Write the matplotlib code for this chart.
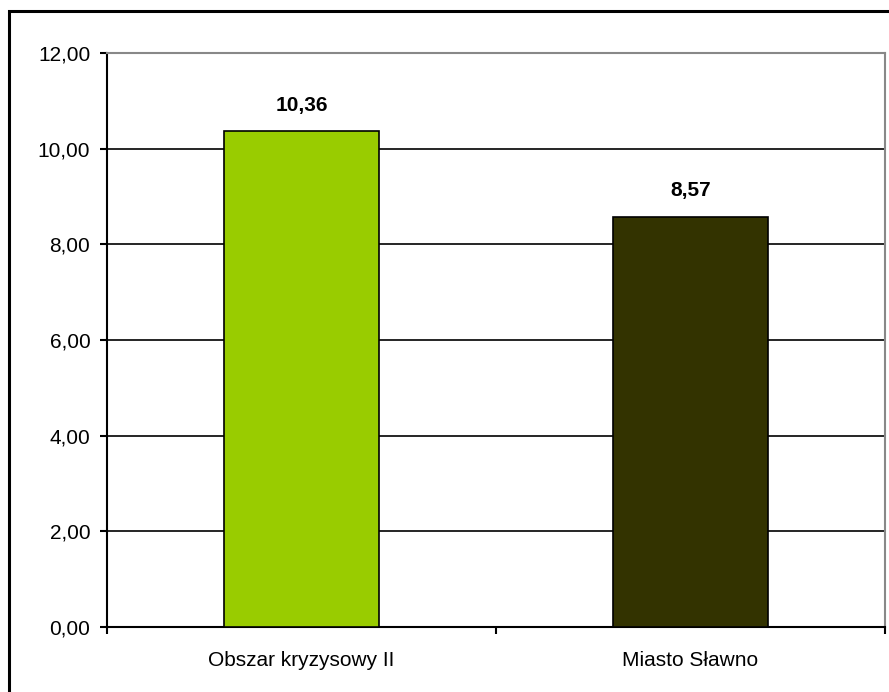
import matplotlib.pyplot as plt
from matplotlib.patches import Rectangle

categories = ["Obszar kryzysowy II", "Miasto Sławno"]
values = [10.36, 8.57]
colors = ["#99CC00", "#333300"]
yticks = [0, 2, 4, 6, 8, 10, 12]

plt.rcParams['font.family'] = ['Liberation Sans', 'DejaVu Sans']

fig = plt.figure(figsize=(8.89, 6.92), dpi=100)
ax = fig.add_axes([107/889, 1-627/692, 778/889, 574/692])

x = list(range(len(categories)))
ax.bar(x, values, width=0.40, color=colors, edgecolor='black', linewidth=1.2, zorder=3)
for xi, v in zip(x, values):
    ax.annotate(f"{v:.2f}".replace('.', ','), (xi, v), xytext=(0, 19), textcoords='offset points',
                ha='center', va='center', fontsize=15, fontweight='bold')

ax.set_xlim(-0.5, len(categories) - 0.5)
ax.set_ylim(0, 12)
ax.set_yticks(yticks)
ax.set_yticklabels([f"{t:.2f}".replace('.', ',') for t in yticks], fontsize=15)
ax.yaxis.grid(True, color='black', linewidth=1.2, zorder=0)
ax.set_axisbelow(True)

# category labels between ticks, ticks at boundaries
ax.set_xticks([i - 0.5 for i in range(len(categories) + 1)])
ax.set_xticklabels([])
ax.set_xticks(x, minor=True)
ax.set_xticklabels(categories, minor=True, fontsize=15)
ax.tick_params(axis='x', which='minor', length=0, pad=17)
ax.tick_params(axis='x', which='major', length=5, width=1.5, direction='out')
ax.tick_params(axis='y', length=5, width=1.5, direction='out', pad=7)

for s in ['left', 'bottom']:
    ax.spines[s].set_linewidth(1.5)
for s in ['top', 'right']:
    ax.spines[s].set_color('#888888')
    ax.spines[s].set_linewidth(1.5)

fig.patches.append(Rectangle((9/889, -0.05), 1.0, 1 - 11/692 + 0.05, transform=fig.transFigure,
                             fill=False, edgecolor='black', linewidth=2.2))

fig.savefig("out.png", dpi=100)
